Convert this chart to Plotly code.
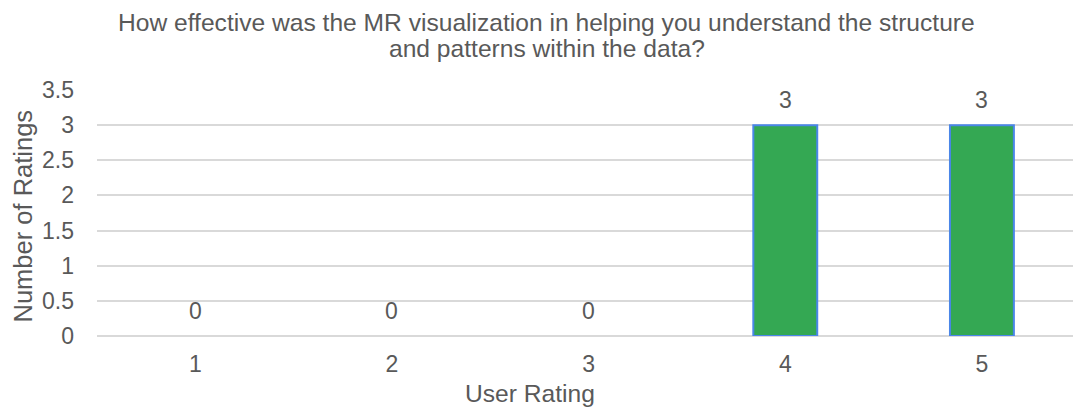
import plotly.graph_objects as go

categories = ["1", "2", "3", "4", "5"]
counts = [0, 0, 0, 3, 3]
y_ticks = [0, 0.5, 1, 1.5, 2, 2.5, 3, 3.5]
y_tick_labels = ["0", "0.5", "1", "1.5", "2", "2.5", "3", "3.5"]
title_lines = ["How effective was the MR visualization in helping you understand the structure",
               "and patterns within the data?"]
x_title = "User Rating"
y_title = "Number of Ratings"

FONT = "Liberation Sans, Arial, sans-serif"
GREY = "#595959"
FS = 23
FS_TITLE = 24.6

W, H = 1073, 408
L, R, T, B = 96.5, 0, 90, 72
PW = W - L - R

fig = go.Figure()
fig.add_trace(go.Bar(
    x=categories, y=counts,
    marker=dict(color="#34A853",
                line=dict(color="#4A86E8", width=[2 if v > 0 else 0 for v in counts])),
    width=0.325,
    hoverinfo="skip",
))

for i, v in enumerate(counts):
    fig.add_annotation(x=i, y=v, text=str(v), showarrow=False, yshift=25,
                       font=dict(family=FONT, size=FS, color=GREY))

for line, (cx, cy) in zip(title_lines, [(546, 22), (547, 48)]):
    fig.add_annotation(xref="paper", yref="paper", x=(cx - L) / PW, y=1,
                       yshift=T - cy, text=line, showarrow=False,
                       xanchor="center", yanchor="middle",
                       font=dict(family=FONT, size=FS_TITLE, color=GREY))
fig.add_annotation(xref="paper", yref="paper", x=(530 - L) / PW, y=0,
                   yshift=-(393 - (H - B)), text=x_title, showarrow=False,
                   xanchor="center", yanchor="middle",
                   font=dict(family=FONT, size=FS_TITLE, color=GREY))
fig.add_annotation(xref="paper", yref="paper", x=0, xshift=-(L - 22), y=0.5,
                   yshift=-3, text=y_title, textangle=-90, showarrow=False,
                   xanchor="center", yanchor="middle",
                   font=dict(family=FONT, size=25.5, color=GREY))

fig.update_layout(
    width=W, height=H,
    margin=dict(l=L, r=R, t=T, b=B, pad=0),
    paper_bgcolor="white", plot_bgcolor="white",
    showlegend=False,
    font=dict(family=FONT, size=FS, color=GREY),
)
fig.update_xaxes(
    type="category", range=[-0.5, -0.5 + PW / 196.75],
    showgrid=False, showline=False, ticks="", ticklabelstandoff=12,
    tickfont=dict(family=FONT, size=FS, color=GREY),
)
fig.update_yaxes(
    range=[0, 3.5], tickvals=y_ticks, ticktext=y_tick_labels,
    showgrid=True, gridcolor="#D9D9D9", gridwidth=1.5,
    zeroline=True, zerolinecolor="#D9D9D9", zerolinewidth=1.5,
    showline=False, ticks="", ticklabelstandoff=22,
    tickfont=dict(family=FONT, size=FS, color=GREY),
)

fig.write_html("out.html", config={"displayModeBar": False},
               post_script="document.body.style.margin='0';document.body.style.overflow='hidden';")
